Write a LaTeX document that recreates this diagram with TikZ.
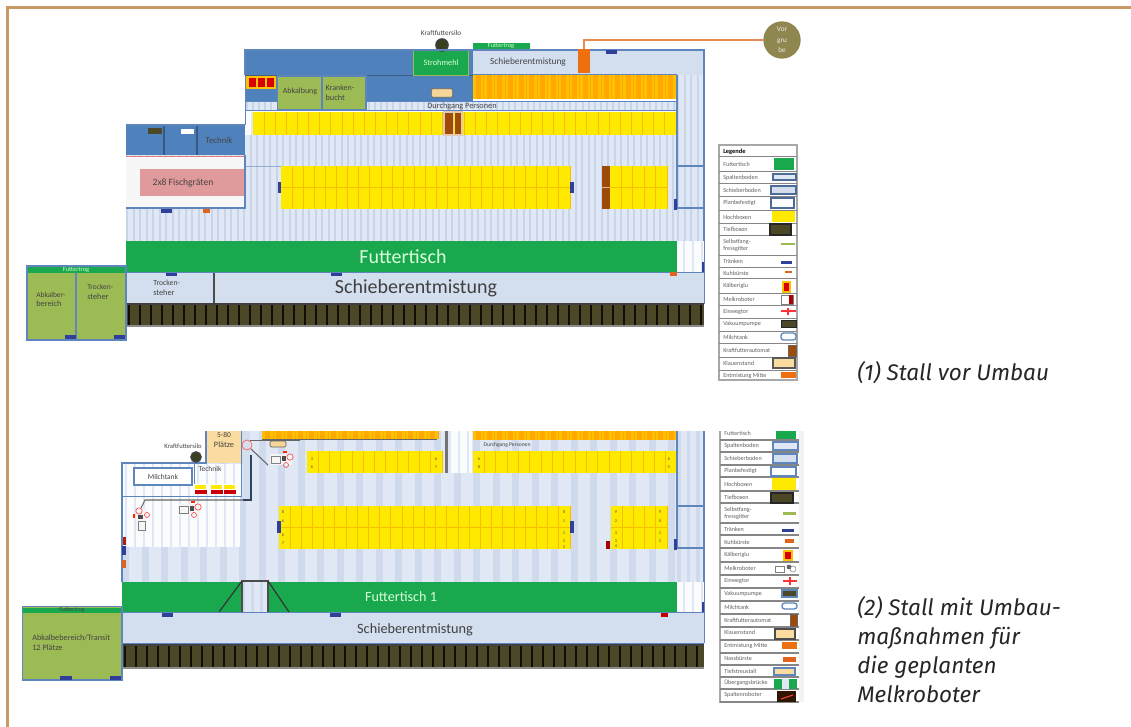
\documentclass[tikz,border=0pt]{standalone}
\usepackage{fontspec}
\setmainfont{Carlito}
\newfontfamily\capfont{Fira Sans}
\definecolor{frame}{HTML}{C99A66}
\definecolor{floorc}{HTML}{DFE8F4}
\definecolor{stripe}{HTML}{C8D5E9}
\definecolor{stripeb}{HTML}{CFDBEC}
\definecolor{schieb}{HTML}{D3DEEE}
\definecolor{edge}{HTML}{5F86BC}
\definecolor{deep}{HTML}{4F81BD}
\definecolor{ftgreen}{HTML}{1AA84F}
\definecolor{olive}{HTML}{9DBB55}
\definecolor{hy}{HTML}{FFE900}
\definecolor{hyl}{HTML}{F8BE00}
\definecolor{ho}{HTML}{FFC000}
\definecolor{hol}{HTML}{FFA800}
\definecolor{slat}{HTML}{4C4727}
\definecolor{brown}{HTML}{A04A08}
\definecolor{barb}{HTML}{30409A}
\definecolor{baro}{HTML}{E2641C}
\definecolor{oran}{HTML}{EE6F10}
\definecolor{pinkc}{HTML}{E19A9B}
\definecolor{tan}{HTML}{FBDCA0}
\definecolor{gru}{HTML}{8F8650}
\definecolor{txt}{HTML}{444444}
\definecolor{leg}{HTML}{A8A8A8}
\newcommand{\rct}[5]{\fill[#5] (#1,#2) rectangle (#3,#4);}
\newcommand{\floorp}[6]{%
  \fill[floorc] (#1,#2) rectangle (#3,#4);
  \begin{scope}\clip (#1,#2) rectangle (#3,#4);
  \pgfmathsetmacro{\nst}{int((#3-#1)/#5)}
  \foreach \i in {0,...,\nst}{\fill[#6] ({#1+\i*#5},#2) rectangle ({#1+\i*#5+0.38*#5},#4);}
  \end{scope}}
\newcommand{\planb}[4]{%
  \fill[white!88!floorc] (#1,#2) rectangle (#3,#4);
  \begin{scope}\clip (#1,#2) rectangle (#3,#4);
  \draw[floorc,line width=1.2pt,step=9] (#1,#2) grid (#3,#4);
  \end{scope}}
\newcommand{\hoch}[8]{%
  \fill[#7] (#1,#2) rectangle (#3,#4);
  \foreach \i in {1,...,#5}{\draw[#8,line width=0.7pt] ({#1+(#3-#1)*\i/#5},#2) -- ({#1+(#3-#1)*\i/#5},#4);}
  \ifnum#6>1 \draw[#8,line width=0.7pt] (#1,{(#2+#4)/2}) -- (#3,{(#2+#4)/2});\fi}
\newcommand{\slats}[4]{%
  \fill[slat] (#1,#2) rectangle (#3,#4);
  \pgfmathsetmacro{\nsl}{int((#3-#1)/11)}
  \foreach \i in {0,...,\nsl}{\draw[black!80!slat,line width=1.5pt] ({#1+\i*11+3},#2) -- ({#1+\i*11+3},#4);}
  \draw[black!75,line width=0.8pt] (#1,#2) -- (#3,#2);
  \draw[black!45,line width=0.9pt] (#1,#4) -- (#3,#4);}
\newcommand{\robot}[3]{%
  \begin{scope}[shift={(#1,#2)},rotate=#3]
  \fill[white!92!gray] (-11,-5) rectangle (11,6);
  \draw[gray,line width=0.5pt] (-10,-3) rectangle (-1,4);
  \fill[black!70] (1,-3) rectangle (5,2);
  \fill[red!70!orange] (2,-8) rectangle (6,-6);
  \draw[red!70,line width=0.5pt] (9,-2) circle (3.2);
  \draw[red!70,line width=0.5pt] (5,6) circle (2.5);
  \end{scope}}
\newcommand{\plabel}[5][]{\node[plant,#1] (#2) at (#3,#4) {#5};}
\tikzset{
  plant/.style={inner sep=0pt,align=center,text=txt,font=\fontsize{6.2}{7.4}\selectfont},
  plantl/.style={plant,align=left,anchor=west},
  bigw/.style={inner sep=0pt,text=white!85!green},
  legt/.style={inner sep=0pt,anchor=west,text=txt!85,font=\fontsize{4.6}{5.4}\selectfont,align=left},
  legl/.style={leg!80!black,line width=0.7pt},
  wall/.style={edge,line width=1pt},
  captext/.style={inner sep=0pt,anchor=west,align=left,font=\capfont\itshape\fontsize{16.9}{21.75}\selectfont,text=black!85},
}
\begin{document}
\begin{tikzpicture}[x=0.75pt,y=-0.75pt]
\useasboundingbox (0,0) rectangle (1131,727);
\fill[white] (0,0) rectangle (1131,727);
% frame
\draw[frame,line width=2pt] (7.5,727) -- (7.5,7.5) -- (1131,7.5);

%%%%%%%%%% PLAN 1
\floorp{126}{135}{677}{241}{6.5}{stripe}
\floorp{677}{75}{704}{241}{6.5}{stripe}
\draw[edge!60!floorc,line width=0.5pt] (245,166) -- (281,166);
\rct{245}{50}{473}{76}{deep}
\rct{473}{50}{704}{75}{schieb}
\draw[edge!70!black,line width=0.6pt] (245,75.5) -- (473,75.5);
\rct{413}{50}{468}{75}{ftgreen}
\draw[olive,line width=0.6pt] (413,50) rectangle (468,75);
\rct{473}{43}{530}{50}{ftgreen}
\plabel{ftg1}{501}{46.5}{\textcolor{white!80!green}{\fontsize{4.8}{5}\selectfont Futtertrog}}
\plabel{strohmehl}{441}{63}{\textcolor{white!85!green}{Strohmehl}}
\plabel{schieb1}{528}{62}{\fontsize{7}{9}\selectfont Schieberentmistung}
\node[inner sep=0pt,circle,draw=black!75,line width=1.2pt,fill=olive!35!black,minimum size=9pt] (silo1) at (442,45) {};
\plabel{silotxt1}{441}{33}{\fontsize{5.4}{6}\selectfont Kraftfuttersilo}
\rct{245}{76}{473}{101}{deep}
\rct{246}{76}{276}{89}{ho}
\foreach \x in {248.5,257.5,267}{\fill[red!85!black] (\x,78) rectangle (\x+7,87);}
\rct{245}{102}{676}{110}{floorc}
\foreach \i in {0,...,70}{\fill[stripe] (246+\i*6.1,102) rectangle (248+\i*6.1,110);}
\draw[edge,line width=0.7pt] (245,101.5) -- (676,101.5) -- (676,110.5) -- (245,110.5);
\node[inner sep=0pt,draw=edge,line width=0.8pt,fill=olive,minimum width=33.5pt,minimum height=25.5pt] (abk) at (299.5,93) {};
\plabel{abktxt}{300}{91}{\fontsize{6}{7}\selectfont Abkalbung}
\node[inner sep=0pt,draw=edge,line width=0.8pt,fill=olive,minimum width=33pt,minimum height=25.5pt] (krank) at (344,93) {};
\plabel[align=left]{kranktxt}{340}{93}{\fontsize{6}{7.5}\selectfont Kranken-\\bucht}
\node[inner sep=0pt,draw=black!60,line width=0.6pt,fill=tan!95!brown,minimum width=16pt,minimum height=6.5pt,rounded corners=1pt] (klauen) at (442,93) {};
\plabel{durch1}{462}{106}{\fontsize{6.2}{7}\selectfont Durchgang Personen}
\hoch{473}{75}{676}{99}{19}{1}{ho}{hol}
\foreach \i in {0,...,18}{\fill[hol] (476+\i*10.68,75) rectangle (481+\i*10.68,99);}
\planb{246}{112}{253}{135}
\hoch{253}{112}{676}{135}{38}{1}{hy}{hyl}
\rct{444}{112}{454}{135}{brown}
\rct{454.5}{112}{462}{135}{brown}
\draw[white!70!brown,line width=0.8pt] (444,112) rectangle (462,135);
\draw[white!70!brown,line width=0.8pt] (453.5,112) -- (453.5,135);
\hoch{281}{166}{570}{209}{26}{2}{hy}{hyl}
\hoch{610}{166}{667}{209}{5}{2}{hy}{hyl}
\rct{602}{166}{610}{209}{brown}
\draw[white!60!brown,line width=0.6pt] (602,187.5) -- (610,187.5);
% right column
\draw[wall,line width=1.2pt] (677,75) -- (677,208) -- (704,208) (677,166) -- (704,166) (473,74.5) -- (677,74.5);
% outer wall
\draw[wall,line width=1.1pt] (245,75) -- (245,50) -- (704,50) -- (704,304);
\draw[wall,line width=0.7pt] (245,76) -- (245,125);
% left parlour
\rct{126}{125}{245}{155}{deep}
\draw[black!30!deep,line width=0.8pt] (164,125) -- (164,155) (197,125) -- (197,155);
\draw[edge,line width=0.8pt] (126,125) -- (245,125);
\rct{148}{128}{162}{134}{slat}
\rct{181}{129}{194}{134}{white}
\plabel{technik1}{219}{140}{\fontsize{6.6}{8}\selectfont Technik}
\rct{126}{156}{245}{208}{white!94!gray}
\rct{140}{169}{245}{196}{pinkc}
\draw[pinkc!80!red,line width=0.6pt] (126,156) -- (245,156);
\plabel{fisch}{183}{183}{\fontsize{7.2}{9}\selectfont 2x8 Fischgräten}
\draw[edge,line width=0.9pt] (126,208) -- (245,208) -- (245,155);
\rct{161}{209}{172}{213}{barb}
\rct{203}{209}{210}{213}{baro}
% Futtertisch
\planb{677}{241}{704}{272}
\rct{126}{241}{677}{272}{ftgreen}
\node[bigw,font=\fontsize{15}{16}\selectfont] (ft1) at (403,257) {Futtertisch};
\rct{701.5}{262}{704}{272}{barb}
\rct{126}{273}{704}{304}{schieb}
\draw[wall] (126,272.5) -- (704,272.5) (126,304) -- (704,304);
\draw[black!70,line width=1pt] (214,273) -- (214,304);
\plabel[plantl]{trocken1}{153}{288}{\fontsize{5.8}{8}\selectfont Trocken-\\steher}
\node[inner sep=0pt,text=black!75,font=\fontsize{15}{16}\selectfont] (schieb1b) at (416,288) {Schieberentmistung};
\rct{166}{273}{177}{276}{barb}
\rct{331}{273}{342}{276}{barb}
\rct{670}{272}{677}{276}{baro}
\slats{126}{304}{704}{326}
% Abkalbe block
\rct{27}{266}{126}{340}{olive}
\rct{28}{267}{126}{273}{ftgreen}
\plabel{ftg2}{76}{270}{\textcolor{white!80!green}{\fontsize{4.8}{5}\selectfont Futtertrog}}
\draw[wall] (27,266) rectangle (126,340);
\draw[edge,line width=1.4pt] (76,273) -- (76,340);
\plabel[plantl]{abkb}{36}{299.5}{\fontsize{5.6}{7.2}\selectfont Abkalber-\\bereich}
\plabel[plantl]{trock2}{87}{292}{\fontsize{5.6}{7.5}\selectfont Trocken-\\steher}
\rct{65}{335}{76}{339}{barb}
\rct{114}{335}{125}{339}{barb}
% bars
\rct{606}{50}{617}{54}{barb}
\rct{277.5}{182}{280.5}{193}{barb}
\rct{570}{182}{574}{193}{barb}
\rct{673.5}{199}{677}{210}{barb}
% orange + Vorgrube
\node[inner sep=0pt,fill=oran,minimum width=9pt,minimum height=18pt] (entm) at (584,61) {};
\node[circle,inner sep=0pt,fill=gru,minimum size=28pt,text=white!85!gru,align=center,font=\fontsize{5.4}{8}\selectfont] (vorgrube) at (782,40) {Vor\\gru\\be};
\draw[baro!75!white,line width=1.1pt] (entm.north) |- (vorgrube.west);

%%%%%%%%%% LEGEND 1
\fill[white] (719,145) rectangle (797,380);
\draw[leg,line width=1pt] (719,145) rectangle (797,380);
\foreach \y in {156,171,183,196,210,223,235,255,267,278,293,305,318,331,343,357,370}{\draw[legl] (719,\y) -- (797,\y);}
\node[legt,text=black,font=\bfseries\fontsize{4.8}{5.4}\selectfont] (l1a) at (723,152) {Legende};
\node[legt] (l1b) at (723,164) {Futtertisch};
\node[legt] (l1c) at (723,178) {Spaltenboden};
\node[legt] (l1d) at (723,190) {Schieberboden};
\node[legt] (l1e) at (723,203) {Planbefestigt};
\node[legt] (l1f) at (723,217) {Hochboxen};
\node[legt] (l1g) at (723,229) {Tiefboxen};
\node[legt] (l1h) at (723,245) {Selbstfang-\\fressgitter};
\node[legt] (l1i) at (723,261) {Tränken};
\node[legt] (l1j) at (723,273) {Kuhbürste};
\node[legt] (l1k) at (723,286) {Kälberiglu};
\node[legt] (l1l) at (723,299) {Melkroboter};
\node[legt] (l1m) at (723,312) {Einwegtor};
\node[legt] (l1n) at (723,324) {Vakuumpumpe};
\node[legt] (l1o) at (723,337) {Milchtank};
\node[legt] (l1p) at (723,350) {Kraftfutterautomat};
\node[legt] (l1q) at (723,363) {Klauenstand};
\node[legt] (l1r) at (723,376) {Entmistung Mitte};
\rct{774}{158}{794}{170}{ftgreen}
\draw[edge!80!black,fill=floorc,line width=1pt] (773,174) rectangle (796,180);
\draw[edge!80!black,fill=schieb,line width=1pt] (771,186) rectangle (796,194);
\draw[edge!80!black,fill=white!85!floorc,line width=1pt] (771,198) rectangle (794,208);
\rct{772}{211}{795}{222}{hy}
\draw[black!85,fill=slat,line width=1pt] (770,224) rectangle (791,235);
\rct{781}{243}{795}{245}{olive}
\rct{781}{261}{792}{264}{barb}
\rct{785}{271}{792}{273.5}{baro}
\fill[ho] (782,281) rectangle (791,293); \rct{784}{283}{789}{291}{red!85!black}
\draw[gray,line width=0.5pt] (781,295) rectangle (793,304); \rct{789}{295}{793}{304}{red!70!black}
\draw[red!80,line width=0.8pt] (781,311) -- (796,311) (788,308) -- (788,315);
\draw[black!85,fill=slat,line width=0.6pt] (781,320) rectangle (796,327);
\draw[edge,fill=white!85!floorc,line width=1pt,rounded corners=2pt] (781,333) rectangle (796,340);
\draw[black!60,fill=brown,line width=0.5pt] (788,345) rectangle (796,356);
\draw[black!65,fill=tan,line width=1pt] (773,358) rectangle (795,368);
\rct{781}{372}{796}{378}{oran}

%%%%%%%%%% PLAN 2
\floorp{122}{431}{677}{582}{19.5}{stripeb}
\floorp{677}{431}{704}{582}{9.5}{stripeb}
\fill[white] (122,431) rectangle (206,463);
\planb{122}{497}{240}{547}
\planb{122}{464}{243}{497}
\rct{206}{431}{241}{463}{tan}
\draw[wall,line width=1.3pt] (206,431) -- (206,463) -- (122,463) -- (122,582);
\draw[wall,line width=1.3pt] (241.5,431) -- (241.5,496.5) -- (122,496.5);
\rct{243}{431}{250}{500}{schieb}
\draw[black!50!edge,line width=1pt] (243,500) -- (251,500) -- (251,455);
\plabel{plaetze}{224}{440}{\fontsize{5.6}{7.6}\selectfont 5-80\\Plätze}
\plabel{silotxt2}{183}{446}{\fontsize{5}{6}\selectfont Kraftfuttersilo}
\node[inner sep=0pt,circle,draw=black!75,line width=1.2pt,fill=olive!35!black,minimum size=7.5pt] (silo2) at (196,457) {};
\node[inner sep=0pt,draw=edge,line width=1.1pt,minimum width=43.5pt,minimum height=12.5pt,fill=white] (tank) at (163,476.5) {};
\plabel{tanktxt}{163}{477}{\fontsize{5.6}{7}\selectfont Milchtank}
\plabel{technik2}{210}{469}{\fontsize{5.6}{7}\selectfont Technik}
\draw[wall,line width=1pt] (194.5,463) -- (194.5,484);
\foreach \x in {195,211,224}{\rct{\x}{484}{\x+13}{494}{white}\rct{\x}{484.5}{\x+11}{488.5}{hy}\rct{\x}{490}{\x+12}{494}{red!80!black}}
% robots
\robot{189}{509}{0}
\robot{141}{520}{90}
\robot{281}{459}{0}
\draw[black!60,line width=0.8pt] (243,500) -- (145,500) -- (141,508);
\draw[black!60,line width=0.8pt] (251,449) -- (268,465);
\draw[black!60,line width=0.8pt] (250,440.5) -- (300,440.5);
\node[inner sep=0pt,draw=black!60,line width=0.6pt,fill=tan!95!brown,minimum width=12pt,minimum height=4.5pt,rounded corners=1pt] (klauen2) at (278,444) {};
\draw[red!60,line width=0.6pt] (247,445) circle (5);
\rct{123}{537}{126}{545}{red!60!slat}
\rct{122}{546}{126}{555}{barb}
\rct{122}{560}{126}{568}{baro}
% yellow rows
\hoch{262}{431}{438}{439}{16}{1}{ho}{hol}
\foreach \i in {0,...,15}{\fill[hol] (265+\i*11,431) rectangle (270+\i*11,439);}
\hoch{473}{431}{677}{440}{19}{1}{ho}{hol}
\foreach \i in {0,...,18}{\fill[hol] (476+\i*10.7,431) rectangle (481+\i*10.7,440);}
\draw[black!60,line width=0.8pt] (262,439.5) -- (437,439.5);
\hoch{307}{451}{442}{473}{12}{1}{hy}{hyl}
\hoch{473}{451}{677}{473}{18}{1}{hy}{hyl}
\planb{449}{431}{472}{473}
\rct{445}{431}{448}{473}{black!55}
\node[inner sep=0pt,text=txt,font=\fontsize{4.2}{5}\selectfont] (durch2) at (507,445) {Durchgang Personen};
\hoch{279}{506}{570}{549}{26}{2}{hy}{hyl}
\hoch{611}{506}{667}{549}{5}{2}{hy}{hyl}
% tiny numbers
\foreach \n/\x/\y/\t in {a/312/459/3,b/312/467/6,c/283/512/8,d/283/521/6,e/283/535/6,f/283/543/7,g/436/459/6,h/436/467/7,i/479/459/6,j/479/467/8,k/669/459/6,l/669/467/5,m/564/512/8,n/564/521/1,o/564/533/1,p/564/541/2,q/564/547/3,r/616/512/9,s/616/521/2,t/616/533/3,u/616/541/3,v/616/546/4,w/660/512/9,x/660/521/0,y/660/533/1,z/660/541/2}{\node[inner sep=0pt,text=black!70,font=\fontsize{3.2}{3.4}\selectfont] (num\n) at (\x,\y) {\t};}
% right column
\draw[wall,line width=1.2pt] (677,431) -- (677,548) -- (704,548) (677,506) -- (704,506);
\draw[wall,line width=1.2pt] (704,431) -- (704,643);
\rct{277}{521}{281}{533}{barb}
\rct{570}{521}{574}{533}{barb}
\rct{606}{541}{610}{549}{red!65!black}
\rct{674}{539}{677}{550}{barb}
% Futtertisch 2
\planb{677}{582}{704}{612}
\rct{122}{582}{677}{612}{ftgreen}
\floorp{242}{581}{268}{612}{9}{stripeb}
\draw[black!70,line width=1.1pt] (242,612) -- (242,581) -- (268,581) -- (268,612);
\draw[black!80,line width=0.9pt] (242,581) -- (219,612) (268,581) -- (289,612);
\node[bigw,font=\fontsize{10.6}{12}\selectfont] (ft2) at (401,597) {Futtertisch 1};
\rct{701.5}{602}{704}{612}{barb}
\rct{122}{613}{704}{643}{schieb}
\draw[wall] (122,612.5) -- (704,612.5) (122,643.5) -- (704,643.5);
\node[inner sep=0pt,text=black!75,font=\fontsize{10.7}{12}\selectfont] (schieb2) at (415,630) {Schieberentmistung};
\rct{162}{613}{173}{617}{barb}
\rct{330}{613}{341}{617}{barb}
\rct{661}{613}{668}{617}{red!75!black}
\slats{122}{645}{704}{668}
\rct{22}{606}{122}{680}{olive}
\rct{23}{608}{122}{613}{ftgreen}
\plabel{ftg3}{72}{610.5}{\fontsize{4.6}{5}\selectfont Futtertrog}
\draw[wall,line width=1.1pt] (22.5,606.5) rectangle (122,680);
\plabel[plantl]{abk2}{32}{642.5}{\fontsize{6.2}{8}\selectfont Abkalbebereich/Transit\\12 Plätze}
\rct{60}{676}{72}{680}{barb}
\rct{110}{676}{121}{680}{barb}

%%%%%%%%%% LEGEND 2
\fill[white] (720,431) rectangle (799,702);
\draw[leg,line width=1.2pt] (720,431) -- (720,702) -- (799,702);
\foreach \y in {440,452,465,477,491,503,523,535,548,562,575,588,601,614,627,640,653,665,677,689,702}{\draw[legl,line width=0.9pt] (720,\y) -- (799,\y);}
\rct{799}{431}{804}{702}{white!90!gray}
\node[legt] (l2a) at (724,433) {Futtertisch};
\node[legt] (l2b) at (724,446) {Spaltenboden};
\node[legt] (l2c) at (724,458) {Schieberboden};
\node[legt] (l2d) at (724,471) {Planbefestigt};
\node[legt] (l2e) at (724,484) {Hochboxen};
\node[legt] (l2f) at (724,497) {Tiefboxen};
\node[legt] (l2g) at (724,513) {Selbstfang-\\fressgitter};
\node[legt] (l2h) at (724,529) {Tränken};
\node[legt] (l2i) at (724,542) {Kuhbürste};
\node[legt] (l2j) at (724,555) {Kälberiglu};
\node[legt] (l2k) at (724,568) {Melkroboter};
\node[legt] (l2l) at (724,581) {Einwegtor};
\node[legt] (l2m) at (724,594) {Vakuumpumpe};
\node[legt] (l2n) at (724,607) {Milchtank};
\node[legt] (l2o) at (724,620) {Kraftfutterautomat};
\node[legt] (l2p) at (724,632) {Klauenstand};
\node[legt] (l2q) at (724,646) {Entmistung Mitte};
\node[legt] (l2r) at (724,658) {Nassbürste};
\node[legt] (l2s) at (724,671) {Tiefstreustall};
\node[legt] (l2t) at (724,683) {Übergangsbrücke};
\node[legt] (l2u) at (724,695) {Spaltenroboter};
\rct{776}{431}{796}{439}{ftgreen}
\draw[edge,fill=floorc,line width=1.2pt] (773,442) rectangle (798,450);
\draw[edge,fill=schieb,line width=1.2pt] (773,454) rectangle (797,463);
\draw[edge,fill=white!85!floorc,line width=1.2pt] (771,467) rectangle (796,476);
\rct{772}{478}{796}{490}{hy}
\draw[black!85,fill=slat,line width=1pt] (771,493) rectangle (793,503);
\rct{783}{512}{796}{515}{olive}
\rct{782}{529}{794}{532}{barb}
\rct{785}{539}{794}{543}{baro}
\fill[ho] (783,550) rectangle (793,561); \rct{785}{552}{791}{559}{red!85!black}
\draw[gray,line width=0.5pt] (775,566) rectangle (784,572); \draw[black!70,fill=black!60] (789,567) circle (2); \draw[gray] (793,569) circle (3);
\draw[red!80,line width=0.8pt] (783,581) -- (797,581) (790,577) -- (790,585);
\draw[edge,fill=slat,line width=0.8pt] (782,590) rectangle (797,597);
\draw[edge,fill=white!85!floorc,line width=1pt,rounded corners=2pt] (782,603) rectangle (797,609);
\draw[black!60,fill=brown,line width=0.5pt] (790,614) rectangle (797,626);
\draw[black!70,fill=tan,line width=1pt] (775,629) rectangle (795,639);
\rct{782}{642}{797}{649}{oran}
\rct{783}{657}{796}{662}{baro}
\draw[edge,fill=tan,line width=1pt] (774,668) rectangle (795,675);
\rct{774}{679}{797}{689}{ftgreen}
\rct{782}{679}{789}{689}{floorc}
\rct{777}{691}{796}{702}{black!70!brown}
\draw[red!75,line width=0.8pt] (781,699) -- (793,695);

%%%%%%%%%% CAPTIONS
\node[captext] (cap1) at (857,373) {(1) Stall vor Umbau};
\node[captext,anchor=north west] (cap2) at (857,596.5) {(2) Stall mit Umbau-\\maßnahmen für\\die geplanten\\Melkroboter};
\end{tikzpicture}
\end{document}
